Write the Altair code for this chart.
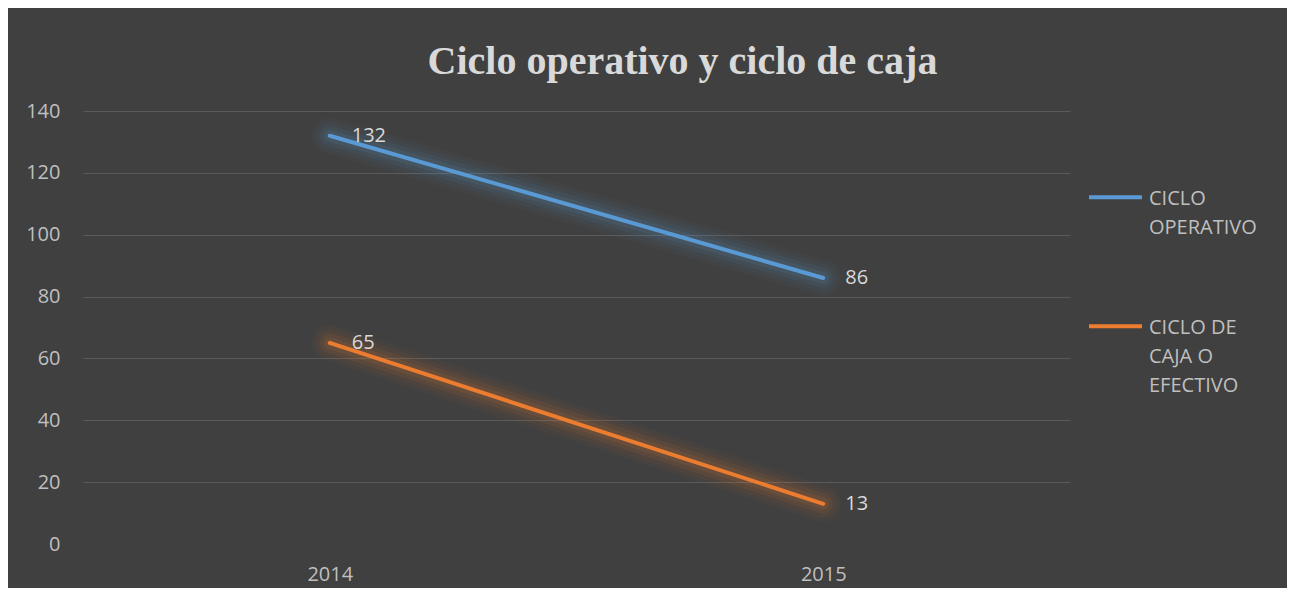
import altair as alt
import pandas as pd

years = ["2014", "2015"]
ciclo_operativo = [132, 86]
ciclo_caja = [65, 13]
series = ["CICLO OPERATIVO", "CICLO DE CAJA O EFECTIVO"]
legend_labels = ["CICLO|OPERATIVO", "CICLO DE|CAJA O|EFECTIVO"]
colors = ["#5B9BD5", "#ED7D31"]

rows = []
for y, v in zip(years, ciclo_operativo):
    rows.append({"year": y, "value": v, "serie": series[0]})
for y, v in zip(years, ciclo_caja):
    rows.append({"year": y, "value": v, "serie": series[1]})
df = pd.DataFrame(rows)

FONT = "Open Sans"

x_enc = alt.X("year:O", scale=alt.Scale(type="point", padding=0.5),
              axis=alt.Axis(labelAngle=0, labelFont=FONT, labelFontSize=20,
                            labelColor="#bfbfbf", labelPadding=20, domain=False,
                            ticks=False, grid=False, title=None))
y_enc = alt.Y("value:Q", scale=alt.Scale(domain=[0, 140], nice=False),
              axis=alt.Axis(values=[0, 20, 40, 60, 80, 100, 120, 140],
                            labelFont=FONT, labelFontSize=20, labelColor="#bfbfbf",
                            labelPadding=23, domain=False, ticks=False, title=None,
                            gridColor="#5a5a5a", gridWidth=1,
                            gridOpacity={"condition": {"test": "datum.value == 0", "value": 0}, "value": 1}))
color_scale = alt.Scale(domain=series, range=colors)

label_expr = "datum.label == '%s' ? '%s' : '%s'" % (series[0], legend_labels[0], legend_labels[1])

base = alt.Chart(df)

main = base.mark_line(strokeWidth=4, strokeCap="round").encode(
    x=x_enc, y=y_enc,
    color=alt.Color("serie:N", scale=color_scale,
                    legend=alt.Legend(
                        title=None, orient="none", legendX=1004, legendY=49,
                        symbolType="M-1,0.33L1,0.33", symbolSize=2809,
                        symbolStrokeWidth=4, symbolFillColor="transparent",
                        symbolOpacity=1, padding=0,
                        labelFont=FONT, labelFontSize=20, labelColor="#bfbfbf",
                        labelOffset=5, labelBaseline="top", labelLimit=300,
                        rowPadding=51, labelExpr=label_expr)))

glows = []
for w, op in [(36, 0.04), (28, 0.05), (20, 0.07), (12, 0.1)]:
    glows.append(base.mark_line(strokeWidth=w, strokeOpacity=op, strokeCap="round").encode(
        x=x_enc, y=y_enc,
        color=alt.Color("serie:N", scale=color_scale)))

labels = base.mark_text(align="left", baseline="middle", dx=22, font=FONT,
                        fontSize=20, color="#d9d9d9").encode(
    x=x_enc, y=y_enc, text="value:Q")

chart = alt.layer(main, *glows, labels).properties(
    width=987, height=433,
    autosize=alt.AutoSizeParams(type="none"),
    padding={"left": 75, "top": 103, "right": 217, "bottom": 44},
    title=alt.TitleParams("Ciclo operativo y ciclo de caja", font="Liberation Serif",
                          fontSize=40, fontWeight="bold", color="#d9d9d9",
                          anchor="middle", baseline="alphabetic", offset=27, dx=106, dy=77),
).configure(background="#404040",
            style={"guide-label": {"lineHeight": 29, "lineBreak": "|"}}).configure_view(strokeWidth=0)

chart.save("out.html", embed_options={"renderer": "svg", "actions": False})
